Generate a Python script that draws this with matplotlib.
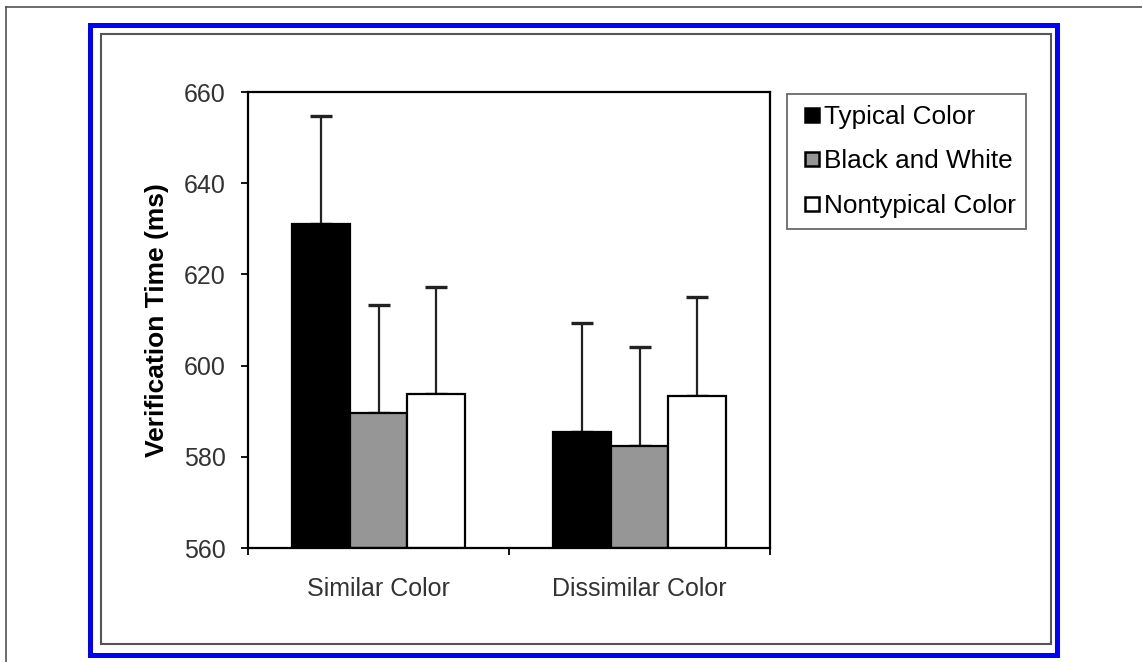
import numpy as np
import matplotlib
matplotlib.use("Agg")
import matplotlib.pyplot as plt
from matplotlib.patches import Rectangle
from matplotlib.lines import Line2D

plt.rcParams['font.family'] = ['Liberation Sans', 'DejaVu Sans']

# data
categories = ["Similar Color", "Dissimilar Color"]
series_names = ["Typical Color", "Black and White", "Nontypical Color"]
series_colors = ["#000000", "#969696", "#ffffff"]
typical = [631.0, 585.4]
black_white = [589.7, 582.4]
nontypical = [593.7, 593.3]
err_typical = [23.7, 23.9]
err_black_white = [23.6, 21.7]
err_nontypical = [23.5, 21.7]
y_ticks = [560, 580, 600, 620, 640, 660]

W, H = 1142, 662
fig = plt.figure(figsize=(W / 100, H / 100), dpi=100)


def fx(px):
    return px / W


def fy(py):
    return 1 - py / H


# frames around the figure (outer crop line, blue box, inner gray box)
fig.add_artist(Line2D([fx(6), fx(1142)], [fy(7), fy(7)], color="#444444", lw=1.1,
                      transform=fig.transFigure))
fig.add_artist(Line2D([fx(6), fx(6)], [fy(7), fy(662)], color="#444444", lw=1.1,
                      transform=fig.transFigure))
fig.add_artist(Rectangle((fx(89.5), fy(654.5)), fx(1056.5 - 89.5), (654.5 - 24.5) / H,
                         fill=False, edgecolor="#0000ff", lw=3.6, transform=fig.transFigure))
fig.add_artist(Rectangle((fx(100.5), fy(644)), fx(1051 - 100.5), (644 - 34) / H,
                         fill=False, edgecolor="#555555", lw=1.5, transform=fig.transFigure))

ax = fig.add_axes([fx(248), fy(548), fx(770 - 248), (548 - 92) / H])

x = np.arange(len(categories))
bw = 0.222
vals = [typical, black_white, nontypical]
errs = [err_typical, err_black_white, err_nontypical]
for i, (v, e, name, c) in enumerate(zip(vals, errs, series_names, series_colors)):
    pos = x + (i - 1) * bw
    ax.bar(pos, np.array(v) - 560, bottom=560, width=bw, color=c, edgecolor="black",
           linewidth=1.6, zorder=2)
    ax.errorbar(pos, v, yerr=[np.zeros(len(e)), e], fmt="none", ecolor="#222222",
                elinewidth=1.6, capsize=8, capthick=2.4, zorder=1)

ax.set_xlim(-0.5, 1.5)
ax.set_ylim(560, 660)
ax.set_yticks(y_ticks)
ax.set_yticklabels([str(t) for t in y_ticks], fontsize=18, color="#333333")
ax.set_xticks(x)
ax.set_xticklabels(categories, fontsize=18, color="#333333")
ax.set_xticks([-0.5, 0.5, 1.5], minor=True)
ax.tick_params(axis="x", which="major", length=0, pad=21)
ax.tick_params(axis="x", which="minor", length=5, width=1.3, direction="out")
ax.tick_params(axis="y", length=5, width=1.3, direction="out", pad=11)
for s in ax.spines.values():
    s.set_linewidth(1.6)
    s.set_color("black")

ax.set_ylabel("Verification Time (ms)", fontsize=19, fontweight="bold", labelpad=11)

# legend with small square markers
handles = [Line2D([], [], marker="s", markersize=9.5, markerfacecolor=c,
                  markeredgecolor="black", markeredgewidth=1.8, linestyle="none")
           for c in series_colors]
leg = ax.legend(handles, series_names, loc="upper left", bbox_to_anchor=(1.0326, 0.9956),
                borderaxespad=0, fontsize=18.8, handlelength=1.1, handletextpad=-0.12,
                labelspacing=0.78, borderpad=0.42, fancybox=False, frameon=True)
leg.get_frame().set_edgecolor("#444444")
leg.get_frame().set_linewidth(1.3)

fig.savefig("out.png", dpi=100)
